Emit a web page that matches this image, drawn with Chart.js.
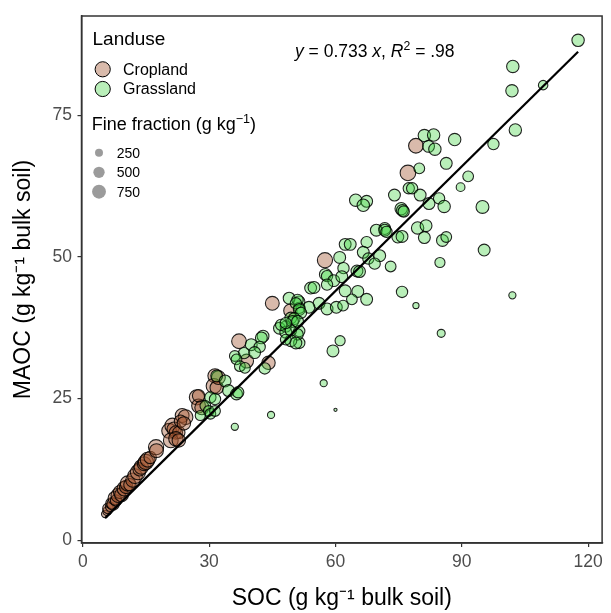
<!DOCTYPE html>
<html>
<head>
<meta charset="utf-8">
<script src="https://cdn.jsdelivr.net/npm/chart.js@4.4.1/dist/chart.umd.min.js"></script>
<style>
  html, body { margin: 0; padding: 0; background: #fff; }
</style>
</head>
<body>
<canvas id="chart" width="611" height="613"></canvas>
<script>
// cropland samples: SOC, MAOC (g/kg bulk soil), fine fraction (g/kg)
const cropSOC  = [5.3, 5.8, 6.0, 6.5, 6.8, 7.2, 7.6, 7.9, 8.4, 8.8, 9.2, 9.9, 10.3, 10.7, 11.2, 11.9, 12.4, 13.1, 13.5, 13.9,
                  14.6, 15.0, 15.4, 16.0, 17.4, 17.5, 20.5, 21.3, 21.7, 22.1, 22.8, 20.9, 22.1, 22.8, 23.6, 24.4, 23.2, 24.0,
                  27.1, 27.5, 28.3, 27.5, 31.4, 31.1, 31.8, 32.2, 38.9, 37.1, 44.1, 45.0, 49.3, 57.5, 77.2, 79.1];
const cropMAOC = [4.6, 5.1, 5.6, 5.9, 6.5, 6.4, 7.4, 7.0, 7.9, 8.5, 8.0, 9.1, 9.4, 10.0, 9.8, 10.6, 11.3, 12.0, 12.5, 12.9,
                  13.5, 13.8, 14.2, 14.6, 16.4, 15.8, 19.3, 20.2, 19.6, 19.0, 19.0, 17.6, 17.9, 17.6, 22.0, 21.7, 21.0, 20.6,
                  25.2, 23.7, 23.4, 25.5, 29.0, 27.2, 26.9, 28.7, 31.6, 35.1, 31.3, 41.8, 40.5, 49.4, 64.8, 69.6];
const cropFine = [200, 300, 450, 350, 500, 600, 700, 500, 800, 650, 750, 850, 700, 900, 600, 800, 850, 900, 700, 800,
                  750, 900, 850, 600, 900, 750, 850, 900, 800, 700, 600, 850, 800, 700, 750, 850, 600, 700,
                  900, 750, 800, 600, 800, 900, 700, 750, 750, 850, 700, 750, 700, 900, 950, 850];

// grassland samples
const grassSOC  = [117.6, 102.1, 101.9, 109.3, 102.7, 97.5, 88.3, 81.1, 83.3, 82.1, 83.6, 86.3, 79.9, 91.5, 89.7, 77.4, 78.2, 80.1,
                   84.6, 74.0, 64.8, 67.4, 66.6, 82.2, 85.8, 94.9, 75.6, 75.9, 76.2, 71.7, 79.5, 81.5, 69.7, 71.7, 72.1, 74.8,
                   75.8, 81.1, 85.4, 86.3, 95.3, 62.3, 63.5, 67.4, 66.6, 61.0, 67.8, 70.5, 69.3, 61.9, 65.1, 65.7, 73.1, 84.8,
                   57.6, 58.0, 59.6, 61.5, 54.1, 54.9, 58.0, 62.3, 65.3, 63.9, 67.4, 75.8, 79.1, 102.0, 56.1, 53.7, 58.0, 60.2,
                   61.8, 51.4, 51.4, 51.4, 51.4, 61.1, 59.4, 85.1, 57.2, 49.0, 51.0, 50.6, 51.4, 51.8, 49.4, 50.2, 46.7, 48.2,
                   49.8, 51.0, 48.2, 49.4, 51.0, 49.4, 50.6, 42.8, 42.4, 40.0, 42.0, 38.3, 40.8, 36.1, 36.5, 37.3, 38.5, 43.2,
                   48.2, 31.8, 33.8, 34.6, 36.5, 36.9, 30.3, 31.4, 29.1, 29.9, 30.3, 31.4, 27.9, 44.7, 36.1, 60.0, 47.1, 48.2];
const grassMAOC = [88.2, 83.6, 79.3, 80.3, 72.4, 69.9, 70.7, 71.4, 71.5, 69.5, 69.0, 66.5, 65.6, 64.2, 62.3, 62.1, 62.1, 60.9,
                   60.3, 60.9, 60.0, 59.8, 59.1, 59.4, 58.9, 58.8, 58.5, 58.2, 58.0, 55.0, 55.1, 55.5, 54.7, 54.7, 54.4, 53.5,
                   53.6, 53.4, 52.9, 53.5, 51.2, 52.2, 52.2, 52.6, 50.8, 49.9, 49.7, 50.2, 48.8, 48.0, 47.5, 47.4, 48.3, 49.0,
                   46.9, 46.6, 45.8, 46.5, 44.5, 44.6, 45.1, 44.0, 43.9, 42.5, 42.5, 43.8, 41.4, 43.2, 41.8, 41.1, 40.8, 41.1,
                   41.4, 42.1, 41.0, 36.9, 34.8, 35.2, 33.4, 36.5, 27.7, 42.7, 42.4, 41.8, 40.7, 40.1, 39.2, 39.1, 37.4, 37.7,
                   38.6, 38.6, 36.7, 37.0, 36.3, 35.2, 34.8, 36.0, 35.7, 34.5, 34.1, 33.0, 33.1, 32.5, 31.9, 30.7, 30.4, 30.3,
                   35.4, 29.0, 28.1, 26.4, 25.8, 26.1, 25.2, 24.9, 23.7, 22.8, 22.3, 22.8, 22.0, 22.1, 20.0, 23.0, 38.0, 38.3];
const grassFine = [600, 600, 600, 350, 600, 500, 600, 600, 600, 550, 600, 550, 450, 450, 300, 500, 500, 550,
                   500, 550, 600, 550, 600, 550, 600, 650, 600, 550, 500, 550, 600, 550, 550, 550, 500, 550,
                   550, 550, 550, 450, 550, 550, 550, 500, 550, 550, 500, 550, 500, 500, 550, 550, 450, 400,
                   550, 500, 550, 550, 550, 550, 500, 550, 550, 450, 550, 500, 150, 200, 550, 550, 550, 550,
                   450, 500, 500, 500, 500, 400, 550, 250, 200, 550, 500, 500, 550, 500, 550, 550, 550, 500,
                   550, 550, 550, 500, 500, 550, 550, 550, 550, 550, 500, 500, 550, 450, 450, 450, 450, 500,
                   450, 550, 550, 550, 550, 500, 500, 500, 450, 450, 450, 450, 400, 200, 200, 40, 500, 500];

const xTicks = [0, 30, 60, 90, 120];
const yTicks = [0, 25, 50, 75];
const sizeBreaks = [250, 500, 750];
const fitSlope = 0.733;
const fitR2 = '.98';

const FONT = "'Liberation Sans', Arial, sans-serif";
const CROP_FILL = 'rgba(160,82,45,0.4)';
const GRASS_FILL = 'rgba(60,210,60,0.36)';
const sizeK = 0.253; // radius per sqrt(g/kg)
const radiusOf = v => sizeK * Math.sqrt(v);

const toPoints = (xs, ys) => xs.map((x, i) => ({ x: x, y: ys[i] }));
const allSOC = cropSOC.concat(grassSOC);
const fitLine = [Math.min(...allSOC), Math.max(...allSOC)].map(x => ({ x: x, y: fitSlope * x }));

// text with italic / superscript pieces
function drawRich(ctx, parts, x, y, size) {
  parts.forEach(p => {
    const fs = p.sup ? size * 0.7 : size;
    ctx.font = (p.it ? 'italic ' : '') + fs + 'px ' + FONT;
    ctx.fillText(p.t, x, p.sup ? y - size * 0.4 : y);
    x += ctx.measureText(p.t).width;
  });
}

const overlay = {
  id: 'overlay',
  afterDraw(chart) {
    const { ctx, chartArea: a } = chart;
    ctx.save();
    ctx.strokeStyle = '#333';
    ctx.lineWidth = 1.5;
    ctx.strokeRect(a.left, a.top, a.right - a.left, a.bottom - a.top);

    ctx.fillStyle = '#000';
    ctx.textBaseline = 'alphabetic';
    ctx.textAlign = 'left';
    ctx.font = '19px ' + FONT;
    ctx.fillText('Landuse', 92.5, 45);

    const keys = [['Cropland', CROP_FILL, 69.3], ['Grassland', GRASS_FILL, 89]];
    keys.forEach(k => {
      ctx.beginPath();
      ctx.arc(102.7, k[2], 7.6, 0, Math.PI * 2);
      ctx.fillStyle = k[1];
      ctx.fill();
      ctx.strokeStyle = '#000';
      ctx.lineWidth = 1;
      ctx.stroke();
      ctx.fillStyle = '#000';
      ctx.font = '16px ' + FONT;
      ctx.textBaseline = 'middle';
      ctx.fillText(k[0], 123, k[2] + 1);
    });

    ctx.textBaseline = 'alphabetic';
    drawRich(ctx, [{ t: 'Fine fraction (g kg' }, { t: '\u22121', sup: true }, { t: ')' }], 91.7, 130, 18);

    const rows = [152.7, 172.3, 191.7];
    sizeBreaks.forEach((v, i) => {
      ctx.beginPath();
      ctx.arc(99, rows[i], radiusOf(v), 0, Math.PI * 2);
      ctx.fillStyle = 'rgba(130,130,130,0.8)';
      ctx.fill();
      ctx.fillStyle = '#000';
      ctx.font = '14px ' + FONT;
      ctx.textBaseline = 'middle';
      ctx.fillText(String(v), 116.7, rows[i] + 1);
    });

    ctx.textBaseline = 'alphabetic';
    ctx.fillStyle = '#000';
    drawRich(ctx, [
      { t: 'y', it: true }, { t: ' = ' + fitSlope + ' ' }, { t: 'x', it: true }, { t: ', ' },
      { t: 'R', it: true }, { t: '2', sup: true }, { t: ' = ' + fitR2 }
    ], 295, 56.7, 17.5);
    ctx.restore();
  }
};

const axisCommon = {
  type: 'linear',
  grid: { display: true, drawOnChartArea: false, drawTicks: true, tickLength: 4, color: '#333', lineWidth: 1.2 },
  border: { display: true, color: '#333', width: 1.5 },
};

new Chart(document.getElementById('chart'), {
  type: 'scatter',
  data: {
    datasets: [
      { type: 'line', data: fitLine, borderColor: '#000', borderWidth: 2.2, pointRadius: 0, order: 0 },
      {
        label: 'Grassland', data: toPoints(grassSOC, grassMAOC), order: 1,
        backgroundColor: GRASS_FILL, borderColor: 'rgba(0,0,0,0.85)', borderWidth: 1.1,
        pointRadius: c => radiusOf(grassFine[c.dataIndex])
      },
      {
        label: 'Cropland', data: toPoints(cropSOC, cropMAOC), order: 2,
        backgroundColor: CROP_FILL, borderColor: 'rgba(0,0,0,0.85)', borderWidth: 1.1,
        pointRadius: c => radiusOf(cropFine[c.dataIndex])
      }
    ]
  },
  options: {
    responsive: false,
    animation: false,
    events: [],
    layout: { padding: { top: 12.7, right: 3, left: 0, bottom: 0 } },
    plugins: { legend: { display: false }, tooltip: { enabled: false } },
    scales: {
      x: Object.assign({}, axisCommon, {
        min: -0.3, max: 123.3,
        afterBuildTicks: s => { s.ticks = xTicks.map(v => ({ value: v })); },
        afterFit: s => { s.height = 70; },
        ticks: { color: '#4d4d4d', font: { family: FONT, size: 17.5 }, padding: 5, maxRotation: 0, autoSkip: false },
        title: { display: true, text: 'SOC (g kg\u207B\u00B9 bulk soil)', color: '#000', font: { family: FONT, size: 23 }, padding: { top: 0, bottom: 1 } }
      }),
      y: Object.assign({}, axisCommon, {
        min: -0.5, max: 92.5,
        afterBuildTicks: s => { s.ticks = yTicks.map(v => ({ value: v })); },
        afterFit: s => { s.width = 81.5; },
        ticks: { color: '#4d4d4d', font: { family: FONT, size: 17.5 }, padding: 5.5, autoSkip: false },
        title: { display: true, text: 'MAOC (g kg\u207B\u00B9 bulk soil)', color: '#000', font: { family: FONT, size: 23 }, padding: { top: 10, bottom: 0 } }
      })
    }
  },
  plugins: [overlay]
});
</script>
</body>
</html>
